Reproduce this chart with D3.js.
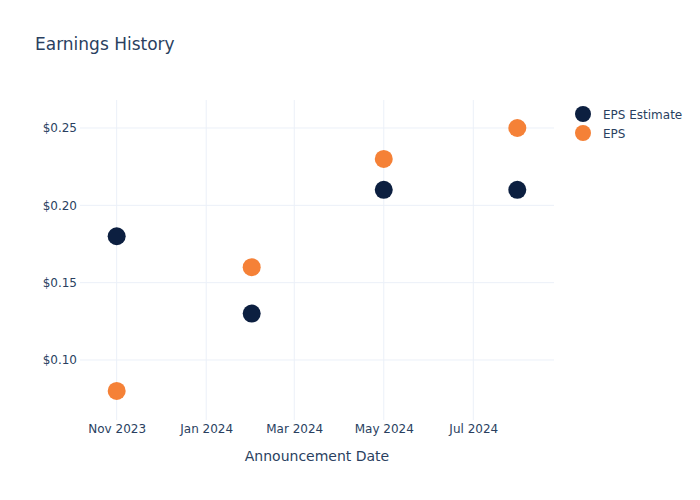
<!DOCTYPE html>
<html>
<head>
<meta charset="utf-8">
<script src="https://cdn.jsdelivr.net/npm/d3@7"></script>
<style>
  body { margin: 0; background: #fff; }
  svg { font-family: "DejaVu Sans", Verdana, sans-serif; }
</style>
</head>
<body>
<div id="chart"></div>
<script>
const dates = ['2023-11-01', '2024-02-01', '2024-05-01', '2024-07-31'];
const epsEstimate = [0.18, 0.13, 0.21, 0.21];
const eps = [0.08, 0.16, 0.23, 0.25];
const yTicks = [0.10, 0.15, 0.20, 0.25];
const xTicks = ['2023-11-01', '2024-01-01', '2024-03-01', '2024-05-01', '2024-07-01'];

const W = 700, H = 500;
const margin = { top: 100, right: 146, bottom: 80, left: 80 };
const parse = d3.timeParse('%Y-%m-%d');
const textColor = '#2a3f5f';

const svg = d3.select('#chart').append('svg')
  .attr('width', W).attr('height', H);

const x = d3.scaleTime()
  .domain([parse('2023-10-07'), parse('2024-08-25')])
  .range([margin.left, W - margin.right]);

const y = d3.scaleLinear()
  .domain([0.0612, 0.2681])
  .range([H - margin.bottom, margin.top]);

// grid
svg.append('g').selectAll('line.gx')
  .data(xTicks).enter().append('line')
    .attr('x1', d => x(parse(d))).attr('x2', d => x(parse(d)))
    .attr('y1', margin.top).attr('y2', H - margin.bottom)
    .attr('stroke', '#ebf0f8').attr('stroke-width', 1);

svg.append('g').selectAll('line.gy')
  .data(yTicks).enter().append('line')
    .attr('x1', margin.left).attr('x2', W - margin.right)
    .attr('y1', d => y(d)).attr('y2', d => y(d))
    .attr('stroke', '#ebf0f8').attr('stroke-width', 1);

// axes (labels only)
const xAxis = svg.append('g')
  .attr('transform', `translate(0,${H - margin.bottom})`)
  .call(d3.axisBottom(x).tickValues(xTicks.map(parse))
    .tickFormat(d3.timeFormat('%b %Y')).tickSize(0).tickPadding(4));
xAxis.select('.domain').remove();
xAxis.selectAll('text').attr('fill', textColor).attr('font-size', 12)
  .attr('font-family', '"DejaVu Sans", Verdana, sans-serif');

const yAxis = svg.append('g')
  .attr('transform', `translate(${margin.left},0)`)
  .call(d3.axisLeft(y).tickValues(yTicks)
    .tickFormat(d => '$' + d3.format('.2f')(d)).tickSize(0).tickPadding(3));
yAxis.select('.domain').remove();
yAxis.selectAll('text').attr('fill', textColor).attr('font-size', 12)
  .attr('font-family', '"DejaVu Sans", Verdana, sans-serif');

// title and axis title
svg.append('text')
  .attr('x', 35).attr('y', 50)
  .attr('fill', textColor).attr('font-size', 17)
  .text('Earnings History');

svg.append('text')
  .attr('x', (margin.left + W - margin.right) / 2).attr('y', 461)
  .attr('text-anchor', 'middle')
  .attr('fill', textColor).attr('font-size', 14)
  .text('Announcement Date');

// series
const series = [
  { name: 'EPS Estimate', values: epsEstimate, color: '#0c1f40' },
  { name: 'EPS', values: eps, color: '#f58137' }
];

series.forEach(s => {
  svg.append('g').selectAll('circle')
    .data(s.values).enter().append('circle')
      .attr('cx', (d, i) => x(parse(dates[i])))
      .attr('cy', d => y(d))
      .attr('r', 9)
      .attr('fill', s.color);
});

// legend
const legend = svg.append('g').attr('transform', 'translate(583,114)');
series.forEach((s, i) => {
  const g = legend.append('g').attr('transform', `translate(0,${i * 19})`);
  g.append('circle').attr('r', 8).attr('fill', s.color);
  g.append('text').attr('x', 20).attr('y', 4.5)
    .attr('fill', textColor).attr('font-size', 12)
    .text(s.name);
});
</script>
</body>
</html>
